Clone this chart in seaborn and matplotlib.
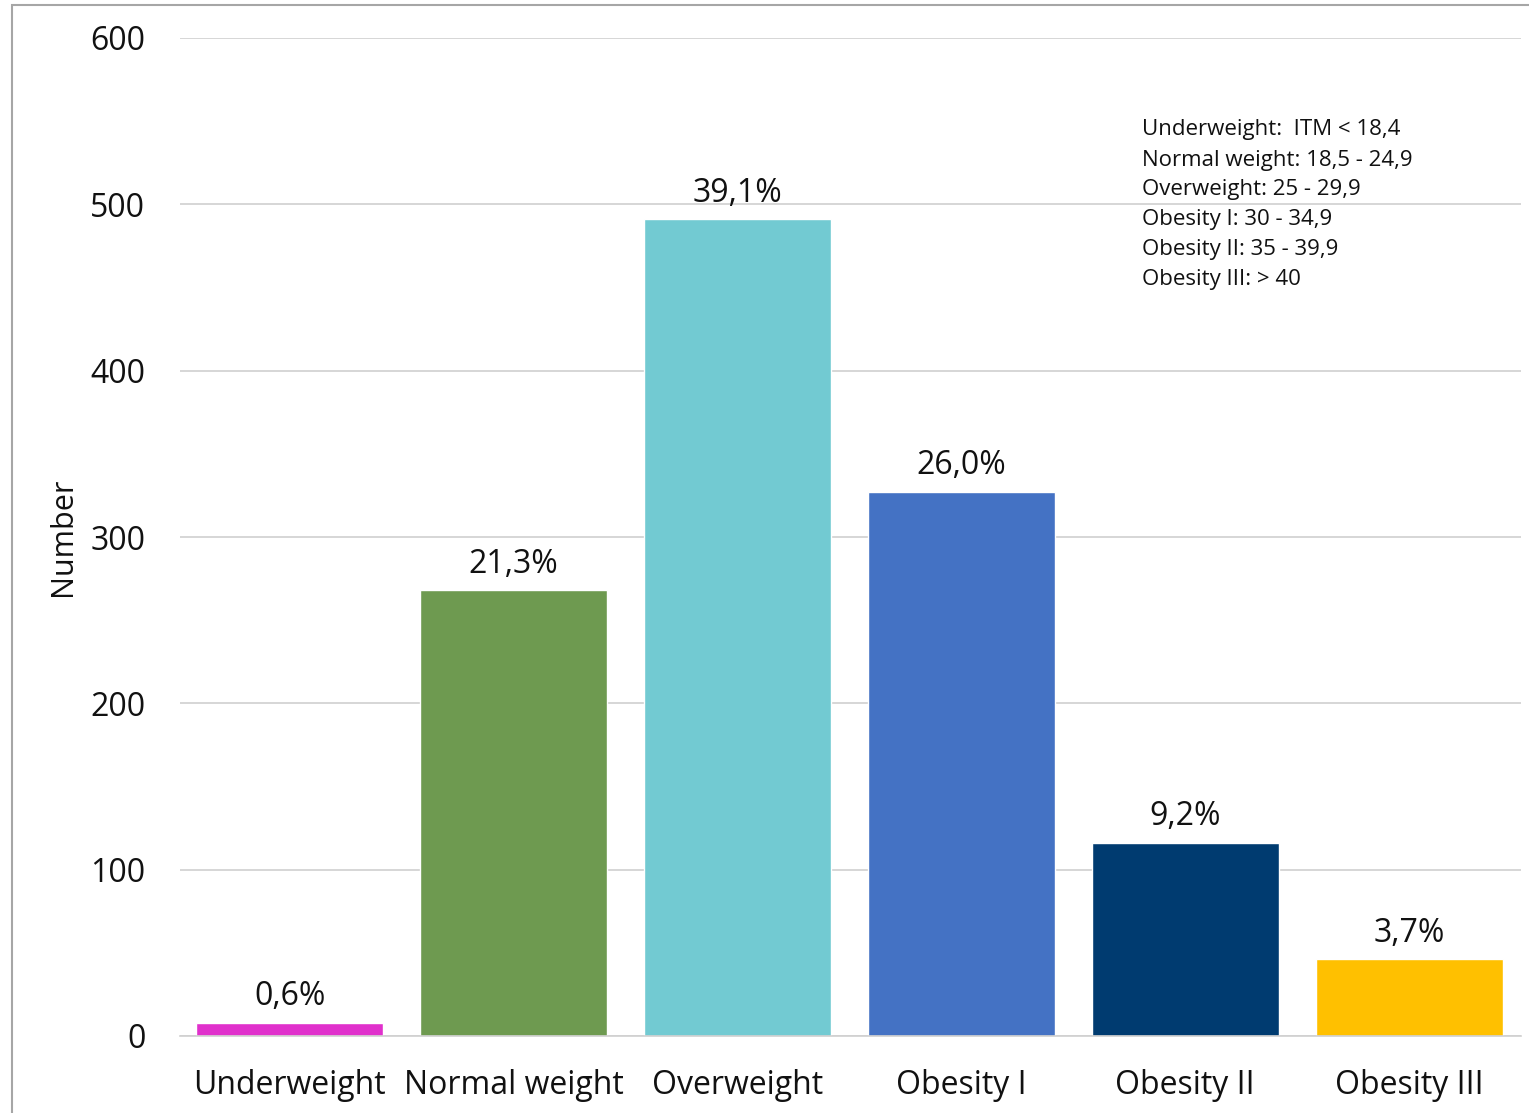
import matplotlib
matplotlib.use("Agg")
import matplotlib.pyplot as plt
from matplotlib.patches import Rectangle
import seaborn as sns
import pandas as pd

categories = ["Underweight", "Normal weight", "Overweight", "Obesity I", "Obesity II", "Obesity III"]
counts = [8, 268, 491, 327, 116, 46]
pct_labels = ["0,6%", "21,3%", "39,1%", "26,0%", "9,2%", "3,7%"]
colors = ["#E030CC", "#6E9A50", "#72CAD2", "#4472C4", "#003B70", "#FFC000"]
yticks = [0, 100, 200, 300, 400, 500, 600]
note_lines = ["Underweight:  ITM < 18,4", "Normal weight: 18,5 - 24,9", "Overweight: 25 - 29,9",
              "Obesity I: 30 - 34,9", "Obesity II: 35 - 39,9", "Obesity III: > 40"]

sns.set_theme(style="white")
plt.rcParams['font.family'] = ['Open Sans', 'DejaVu Sans']
plt.rcParams['text.color'] = '#111111'
plt.rcParams['xtick.color'] = '#111111'
plt.rcParams['ytick.color'] = '#111111'
plt.rcParams['axes.labelcolor'] = '#111111'

df = pd.DataFrame({"category": categories, "count": counts})

fig = plt.figure(figsize=(15.29, 11.13), dpi=100)
ax = fig.add_axes([180/1529, 1 - 1036/1113, (1521-180)/1529, (1036-38)/1113])

sns.barplot(data=df, x="category", y="count", hue="category", palette=colors,
            order=categories, hue_order=categories, width=0.835, legend=False,
            saturation=1, ax=ax)

ax.set_xlim(-0.49, 5.5)
ax.set_ylim(0, 600)
ax.set_yticks(yticks)
ax.set_yticklabels([str(t) for t in yticks], fontsize=23)
ax.yaxis.grid(True, color="#d0d0d0", lw=1.2)
ax.set_axisbelow(True)
for s in ["top", "right", "left"]:
    ax.spines[s].set_visible(False)
ax.spines["bottom"].set_color("#d0d0d0")
ax.spines["bottom"].set_linewidth(1.2)
ax.tick_params(axis="y", length=0, pad=25, labelsize=23)
ax.tick_params(axis="x", length=0, pad=24, labelsize=23)
ax.set_xlabel("")
ax.set_ylabel("Number", fontsize=22, labelpad=9)

for container in ax.containers:
    for bar in container:
        i = int(round(bar.get_x() + bar.get_width() / 2))
        ax.annotate(pct_labels[i], (bar.get_x() + bar.get_width() / 2, bar.get_height()),
                    xytext=(0, 7), textcoords="offset points", ha="center", va="bottom",
                    fontsize=23)

for k, line in enumerate(note_lines):
    fig.text(1142/1529, 1 - (130 + 30*k)/1113, line, fontsize=16, ha="left", va="center")

fig.patches.append(Rectangle((12/1529, -0.1), 1.0, 1.1 - 5/1113, transform=fig.transFigure,
                             fill=False, edgecolor="#a6a6a6", lw=1.5))

fig.savefig("out.png", dpi=100)
